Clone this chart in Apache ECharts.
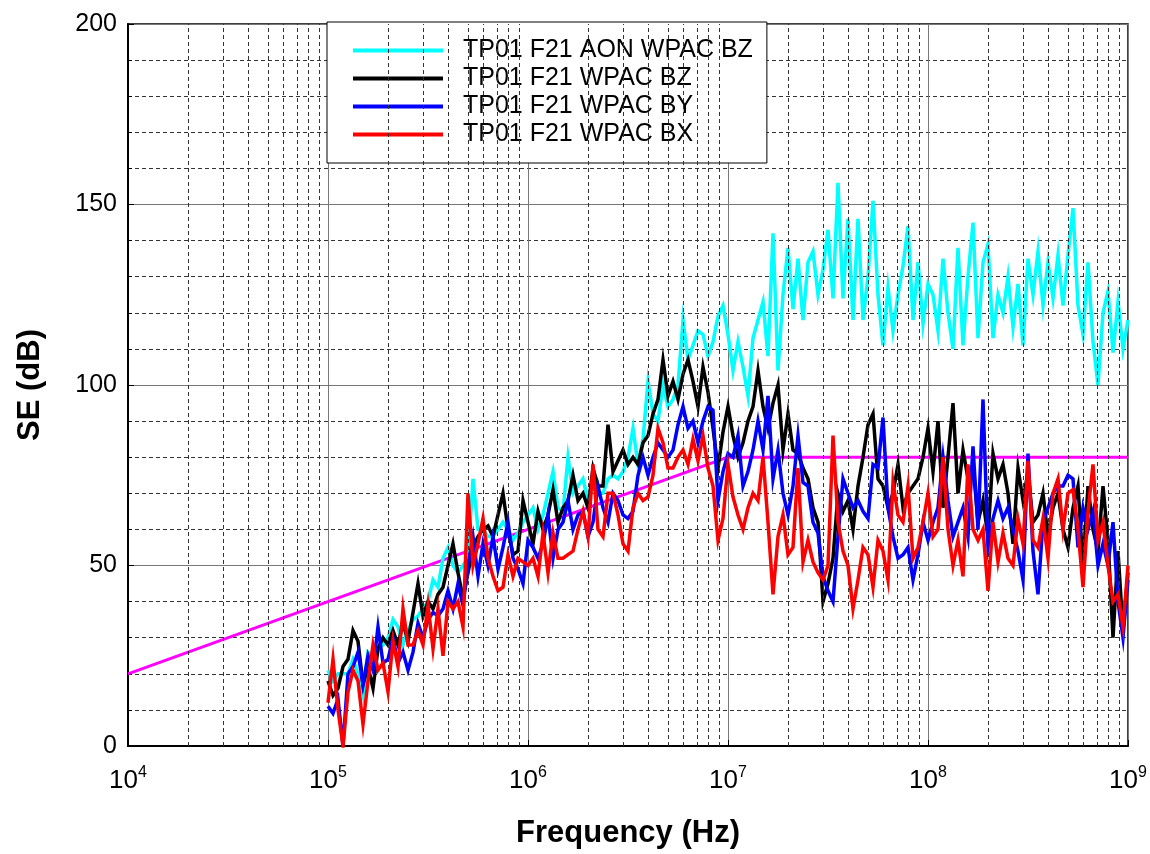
<!DOCTYPE html>
<html lang="en">

<head>
    <meta charset="UTF-8">
    <title>SE</title>
    <script src="https://cdn.jsdelivr.net/npm/echarts@6/dist/echarts.min.js"></script>
</head>

<body style="margin:0;background:#fff">
    <div id="chart" style="width: 1150px;height: 854px;"></div>

    <script>
        // sweep: 1e5 .. 1e9 Hz, 40 points per decade
        const sweepStart = 1e5;
        const pointsPerDecade = 40;

        const names = ['TP01 F21 AON WPAC BZ', 'TP01 F21 WPAC BZ', 'TP01 F21 WPAC BY', 'TP01 F21 WPAC BX'];
        const colors = ['#00ffff', '#000000', '#0000ff', '#ff0000'];

        const aonBz = [
            21, 18, 20, 20, 20, 24, 20, 14, 26, 25,
            27, 28, 30, 35, 33, 28, 32, 35, 36, 38,
            40, 46, 44, 52, 55, 50, 48, 50, 52, 74,
            60, 60, 58, 58, 60, 62, 60, 57, 59, 62,
            64, 66, 60, 64, 70, 76, 66, 65, 80, 70,
            72, 74, 68, 72, 70, 70, 74, 75, 74, 76,
            80, 88, 78, 85, 101, 92, 90, 100, 94, 96,
            100, 118, 107, 111, 115, 114, 108, 112, 119, 122,
            114, 104, 112, 105, 97, 113, 118, 123, 108, 142,
            104, 125, 138, 121, 135, 118, 134, 137, 125, 132,
            143, 124, 156, 124, 146, 118, 146, 118, 130, 151,
            125, 111, 127, 115, 125, 133, 144, 118, 134, 117,
            128, 125, 115, 135, 120, 110, 138, 111, 130, 145,
            113, 134, 139, 113, 125, 120, 130, 116, 128, 111,
            135, 125, 137, 122, 134, 124, 136, 122, 136, 149,
            122, 114, 134, 112, 100, 120, 126, 109, 123, 110,
            118
        ];

        const wpacBz = [
            18, 14, 16, 22, 24, 32, 29, 17, 22, 16,
            27, 30, 28, 32, 28, 34, 29, 37, 45, 36,
            40, 38, 42, 44, 50, 56, 48, 41, 48, 55,
            58, 60, 61, 58, 64, 70, 60, 53, 54, 68,
            62, 56, 65, 60, 64, 71, 62, 66, 68, 75,
            68, 70, 66, 77, 72, 72, 89, 76, 79, 82,
            78, 80, 78, 84, 86, 92, 96, 107, 97, 101,
            96, 103, 107, 101, 94, 105, 98, 88, 77, 87,
            94, 86, 80, 84, 90, 94, 104, 94, 88, 95,
            100, 82, 92, 82, 81, 77, 74, 66, 62, 40,
            45, 52, 70, 65, 68, 60, 72, 80, 89, 92,
            74, 72, 66, 70, 78, 66, 70, 72, 74, 80,
            88, 76, 90, 66, 80, 95, 70, 82, 74, 78,
            62, 68, 58, 81, 74, 78, 70, 56, 77, 68,
            76, 62, 64, 70, 58, 66, 70, 60, 55, 66,
            72, 50, 72, 60, 54, 72, 57, 30, 54, 32,
            48
        ];

        const wpacBy = [
            11, 9, 13, 0, 20, 22, 26, 17, 25, 21,
            33, 23, 24, 30, 23, 26, 21, 26, 34, 30,
            35, 37, 36, 38, 43, 38, 45, 39, 50, 58,
            47, 56, 50, 58, 49, 55, 62, 52, 49, 45,
            57, 55, 52, 56, 64, 52, 60, 62, 68, 60,
            64, 65, 58, 62, 72, 66, 62, 70, 68, 64,
            63, 65, 75, 80, 75, 80, 84, 82, 80, 82,
            89, 94, 88, 90, 84, 90, 94, 93, 68, 76,
            81, 80, 86, 72, 76, 82, 90, 82, 97, 74,
            82, 70, 64, 72, 86, 73, 72, 62, 59, 47,
            43, 40, 58, 74, 70, 66, 68, 65, 63, 78,
            77, 91, 66, 58, 52, 53, 55, 46, 53, 62,
            57, 62, 66, 80, 68, 58, 62, 66, 58, 83,
            60, 96, 55, 63, 68, 63, 66, 60, 54, 46,
            81, 54, 42, 62, 66, 70, 72, 72, 75, 74,
            55, 66, 60, 65, 50, 56, 50, 62, 40, 30,
            46
        ];

        const wpacBx = [
            12, 24, 10, 0, 15, 21, 18, 6, 18, 28,
            21, 23, 15, 29, 22, 38, 28, 28, 32, 28,
            39, 27, 38, 25, 40, 38, 40, 33, 70, 50,
            56, 63, 52, 47, 43, 44, 53, 47, 52, 51,
            50, 52, 47, 59, 48, 59, 52, 52, 53, 54,
            60, 65, 58, 78, 60, 58, 70, 70, 64, 56,
            54, 66, 70, 68, 69, 75, 88, 84, 77, 77,
            80, 82, 78, 85, 79, 86, 77, 72, 57, 63,
            78, 69, 64, 60, 66, 70, 68, 80, 62, 42,
            58, 64, 53, 55, 77, 51, 57, 51, 48, 46,
            50, 86, 62, 54, 50, 38, 46, 55, 53, 44,
            57, 54, 46, 73, 64, 62, 72, 52, 55, 62,
            70, 58, 60, 80, 60, 50, 57, 47, 78, 60,
            57, 60, 43, 62, 51, 59, 52, 50, 63, 56,
            79, 57, 55, 63, 52, 70, 74, 60, 70, 71,
            60, 44, 65, 78, 57, 62, 50, 40, 42, 33,
            50
        ];

        // limit line
        const limitFreq = [1e4, 1e7, 1e9];
        const limitDb = [20, 80, 80];

        // grid values
        const decades = [4, 5, 6, 7, 8];
        const minorSteps = [2, 3, 4, 5, 6, 7, 8, 9];

        function toPairs(vals) {
            return vals.map((v, i) => [sweepStart * Math.pow(10, i / pointsPerDecade), v]);
        }

        const minorLines = [];
        decades.forEach(d => {
            minorSteps.forEach(k => {
                minorLines.push({ xAxis: k * Math.pow(10, d) });
            });
        });

        let myChart = echarts.init(document.getElementById('chart'));

        const font = 'Liberation Sans, Arial, sans-serif';
        const dataSets = [aonBz, wpacBz, wpacBy, wpacBx];

        let series = [{
            name: 'minor',
            type: 'line',
            data: [],
            z: 1,
            silent: true,
            markLine: {
                silent: true,
                symbol: ['none', 'none'],
                label: { show: false },
                animation: false,
                lineStyle: { color: '#333', width: 1, type: [4, 3] },
                data: minorLines
            }
        }, {
            name: 'limit',
            type: 'line',
            data: limitFreq.map((f, i) => [f, limitDb[i]]),
            showSymbol: false,
            lineStyle: { color: '#ff00ff', width: 3 },
            itemStyle: { color: '#ff00ff' },
            z: 2
        }];

        dataSets.forEach((vals, i) => {
            series.push({
                name: names[i],
                type: 'line',
                data: toPairs(vals),
                showSymbol: false,
                lineStyle: { color: colors[i], width: 3.5, join: 'miter' },
                itemStyle: { color: colors[i] },
                z: 3 + i
            });
        });

        let option = {
            animation: false,
            backgroundColor: '#fff',
            grid: {
                left: 128,
                top: 24,
                width: 1000,
                height: 724,
                show: true,
                borderColor: '#000',
                borderWidth: 1.5
            },
            legend: {
                data: names,
                orient: 'vertical',
                left: 327,
                top: 22,
                padding: [16, 14, 16, 26],
                itemGap: 3,
                itemWidth: 90,
                itemHeight: 4,
                icon: 'rect',
                backgroundColor: '#fff',
                borderColor: '#000',
                borderWidth: 1,
                borderRadius: 0,
                textStyle: {
                    fontFamily: font,
                    fontSize: 25,
                    lineHeight: 25,
                    color: '#000',
                    padding: [0, 0, 0, 15]
                }
            },
            xAxis: {
                type: 'log',
                logBase: 10,
                min: 1e4,
                max: 1e9,
                splitNumber: 5,
                name: 'Frequency (Hz)',
                nameLocation: 'middle',
                nameGap: 72,
                nameTextStyle: { fontFamily: font, fontSize: 31, fontWeight: 'bold', color: '#000' },
                axisLine: { lineStyle: { color: '#000', width: 2 } },
                axisTick: { inside: true, length: 6, lineStyle: { color: '#000' } },
                splitLine: { show: true, lineStyle: { color: '#777', width: 1 } },
                axisLabel: {
                    margin: 19,
                    formatter: function (v) {
                        return '{b|10}{s|' + Math.round(Math.log10(v)) + '}';
                    },
                    rich: {
                        b: { fontFamily: font, fontSize: 26, color: '#000' },
                        s: { fontFamily: font, fontSize: 16, color: '#000', padding: [0, 0, 16, 0] }
                    }
                }
            },
            yAxis: {
                type: 'value',
                min: 0,
                max: 200,
                interval: 50,
                name: 'SE (dB)',
                nameLocation: 'middle',
                nameGap: 82,
                nameTextStyle: { fontFamily: font, fontSize: 31, fontWeight: 'bold', color: '#000' },
                axisLine: { show: true, lineStyle: { color: '#000', width: 2 } },
                axisTick: { inside: true, length: 6, lineStyle: { color: '#000' } },
                axisLabel: { fontFamily: font, fontSize: 25, color: '#000', margin: 11 },
                splitLine: { show: true, lineStyle: { color: '#777', width: 1 } },
                minorTick: { show: true, splitNumber: 5, length: 4 },
                minorSplitLine: { show: true, lineStyle: { color: '#333', width: 1, type: [4, 3] } }
            },
            series: series
        };

        myChart.setOption(option);
    </script>
</body>

</html>
